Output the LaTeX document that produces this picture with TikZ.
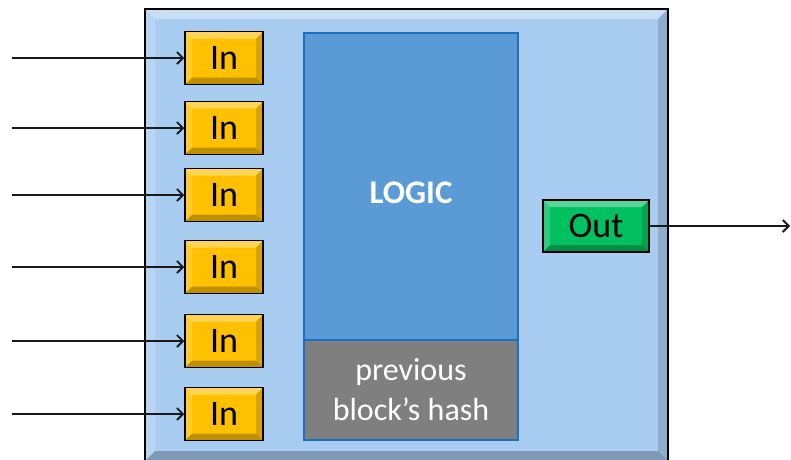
\documentclass[tikz,border=0pt]{standalone}
\usepackage{fontspec}
\setmainfont{Carlito}
\usetikzlibrary{arrows.meta}
\definecolor{outerblue}{HTML}{A9CDF1}
\definecolor{logicblue}{HTML}{5B9BD5}
\definecolor{edgeblue}{HTML}{1F6FC0}
\definecolor{hashgray}{HTML}{7F7F7F}
\definecolor{ingold}{HTML}{FFC000}
\definecolor{outgreen}{HTML}{00C060}
\tikzset{
  bevel/.style={path picture={
    \fill[white,opacity=.35] (path picture bounding box.north west) -- (path picture bounding box.north east)
      -- ([shift={(-#1,-#1)}]path picture bounding box.north east) -- ([shift={(#1,-#1)}]path picture bounding box.north west) -- cycle;
    \fill[white,opacity=.18] (path picture bounding box.north west) -- (path picture bounding box.south west)
      -- ([shift={(#1,#1)}]path picture bounding box.south west) -- ([shift={(#1,-#1)}]path picture bounding box.north west) -- cycle;
    \fill[black,opacity=.25] (path picture bounding box.south west) -- (path picture bounding box.south east)
      -- ([shift={(-#1,#1)}]path picture bounding box.south east) -- ([shift={(#1,#1)}]path picture bounding box.south west) -- cycle;
    \fill[black,opacity=.15] (path picture bounding box.north east) -- (path picture bounding box.south east)
      -- ([shift={(-#1,#1)}]path picture bounding box.south east) -- ([shift={(-#1,-#1)}]path picture bounding box.north east) -- cycle;
  }},
  port/.style={draw=black, line width=1.5pt, minimum width=78pt, minimum height=53pt, inner sep=0pt,
    font=\fontsize{36}{40}\selectfont, bevel=7pt},
  inport/.style={port, fill=ingold},
  outport/.style={port, fill=outgreen, minimum width=106pt, minimum height=52pt},
  wire/.style={line width=1.8pt, draw=black!90, -{Straight Barb[length=6pt,width=12pt,line width=1.8pt]}}
}
\begin{document}
\begin{tikzpicture}[x=1pt,y=-1pt]
\useasboundingbox (0,0) rectangle (791,459);
% outer block
\node[draw=black, line width=2pt, fill=outerblue, minimum width=523pt, minimum height=452pt, inner sep=0pt, bevel=10pt] (block) at (406.5,235) {};
% logic and hash
\node[draw=edgeblue, line width=1.2pt, fill=logicblue, minimum width=214pt, minimum height=307pt, inner sep=0pt,
  text height=43.6pt, text depth=10pt,
  text=white, font=\fontsize{33}{36}\selectfont\bfseries] (logic) at (411,186.5) {LOGIC};
\node[draw=edgeblue, line width=1.2pt, fill=hashgray, minimum width=214pt, minimum height=100pt, inner sep=0pt,
  text=white, font=\fontsize{32}{40}\selectfont, align=center] (hash) at (411,390) {previous\\block’s hash};
% inputs
\foreach \i/\y in {1/58,2/128,3/195,4/267,5/341,6/414}{
  \node[inport] (in\i) at (224,\y) {In};
  \coordinate (src\i) at (12,\y);
  \draw[wire] (src\i) -- (in\i.west);
}
% output
\node[outport] (out) at (596,226) {Out};
\coordinate (dst) at (790,226);
\draw[wire] (out.east) -- (dst);
\end{tikzpicture}
\end{document}
